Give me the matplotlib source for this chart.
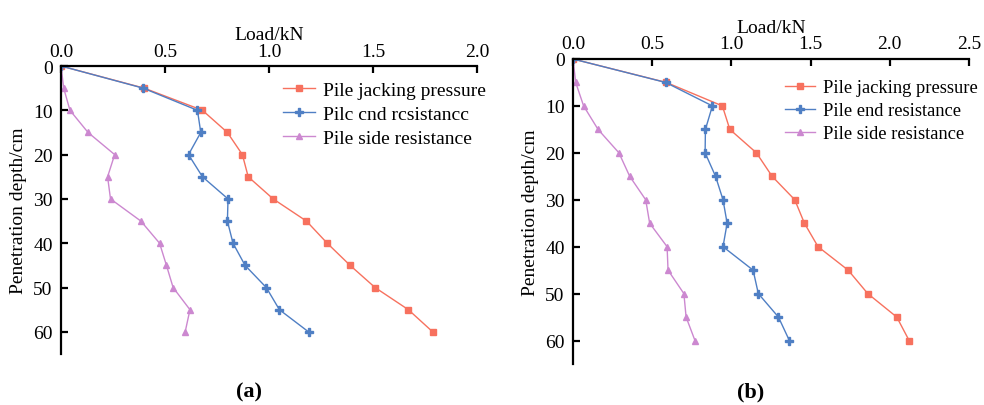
import matplotlib
matplotlib.use("Agg")
import matplotlib.pyplot as plt

depth = [0, 5, 10, 15, 20, 25, 30, 35, 40, 45, 50, 55, 60]

a_jacking = [0, 0.40, 0.68, 0.80, 0.872, 0.90, 1.02, 1.18, 1.28, 1.39, 1.51, 1.67, 1.787]
a_end = [0, 0.395, 0.656, 0.672, 0.613, 0.68, 0.803, 0.80, 0.827, 0.885, 0.987, 1.05, 1.19]
a_side = [0, 0.013, 0.043, 0.13, 0.258, 0.224, 0.238, 0.384, 0.474, 0.507, 0.539, 0.62, 0.597]

b_jacking = [0, 0.589, 0.943, 0.99, 1.158, 1.257, 1.40, 1.461, 1.547, 1.737, 1.861, 2.044, 2.122]
b_end = [0, 0.585, 0.88, 0.836, 0.834, 0.90, 0.947, 0.973, 0.947, 1.137, 1.17, 1.297, 1.366]
b_side = [0, 0.017, 0.067, 0.158, 0.29, 0.358, 0.459, 0.484, 0.594, 0.60, 0.70, 0.714, 0.77]

a_labels = ["Pile jacking pressure", "Pilc cnd rcsistancc", "Pile side resistance"]
b_labels = ["Pile jacking pressure", "Pile end resistance", "Pile side resistance"]

a_xticks = [0.0, 0.5, 1.0, 1.5, 2.0]
b_xticks = [0.0, 0.5, 1.0, 1.5, 2.0, 2.5]
yticks = [0, 10, 20, 30, 40, 50, 60]

c_jack = "#F7715E"
c_end = "#4F7FC4"
c_side = "#CC88D0"

plt.rcParams['font.family'] = ['Liberation Serif', 'DejaVu Serif']
plt.rcParams['font.size'] = 14

fig = plt.figure(figsize=(9.84, 4.06), dpi=100)
W, H = 984, 406

def make_ax(l, r, t, b):
    return fig.add_axes([l / W, 1 - b / H, (r - l) / W, (b - t) / H])

def style(ax, xmax, xticks, leg_labels, leg_anchor, leg_fs, tag, tag_x, xpad, xlpad):
    ax.set_xlim(0, xmax)
    ax.set_ylim(65, 0)
    ax.set_xticks(xticks)
    ax.set_xticklabels([f"{v:.1f}" for v in xticks])
    ax.set_yticks(yticks)
    ax.xaxis.tick_top()
    ax.xaxis.set_label_position('top')
    ax.spines['right'].set_visible(False)
    ax.spines['bottom'].set_visible(False)
    ax.spines['left'].set_linewidth(1.6)
    ax.spines['top'].set_linewidth(1.6)
    ax.tick_params(axis='x', direction='in', length=5, width=1.6, pad=xpad, labelsize=14)
    ax.tick_params(axis='y', direction='in', length=5, width=1.6, pad=6, labelsize=14)
    ax.set_xlabel("Load/kN", fontsize=14, labelpad=xlpad)
    ax.set_ylabel("Penetration depth/cm", fontsize=14, labelpad=4)
    ax.legend(leg_labels, loc='upper left', bbox_to_anchor=leg_anchor,
              frameon=False, fontsize=leg_fs, handlelength=1.65, handletextpad=0.4,
              labelspacing=0.33, borderaxespad=0, borderpad=0)
    fig.text(tag_x / W, 1 - 392 / H, tag, ha='center', va='center',
             fontsize=16, fontweight='bold')

ax1 = make_ax(61, 477, 67, 355)
ax1.plot(a_jacking, depth, color=c_jack, marker='s', markersize=4.5, linewidth=1)
ax1.plot(a_end, depth, color=c_end, marker='P', markersize=6, linewidth=1)
ax1.plot(a_side, depth, color=c_side, marker='^', markersize=5, linewidth=1, markevery=list(range(1, 13)))
style(ax1, 2.0, a_xticks, a_labels, ((283 - 61) / 416, 1 - (82 - 67) / 288), 14, "(a)", 249, 4, 3)

ax2 = make_ax(573, 969, 60, 365)
ax2.plot(b_jacking, depth, color=c_jack, marker='s', markersize=4.5, linewidth=1)
ax2.plot(b_end, depth, color=c_end, marker='P', markersize=6, linewidth=1)
ax2.plot(b_side, depth, color=c_side, marker='^', markersize=5, linewidth=1, markevery=list(range(1, 13)))
style(ax2, 2.5, b_xticks, b_labels, ((785 - 573) / 396, 1 - (80 - 60) / 305), 13.3, "(b)", 751, 5, 2)

fig.savefig("out.png", dpi=100)
